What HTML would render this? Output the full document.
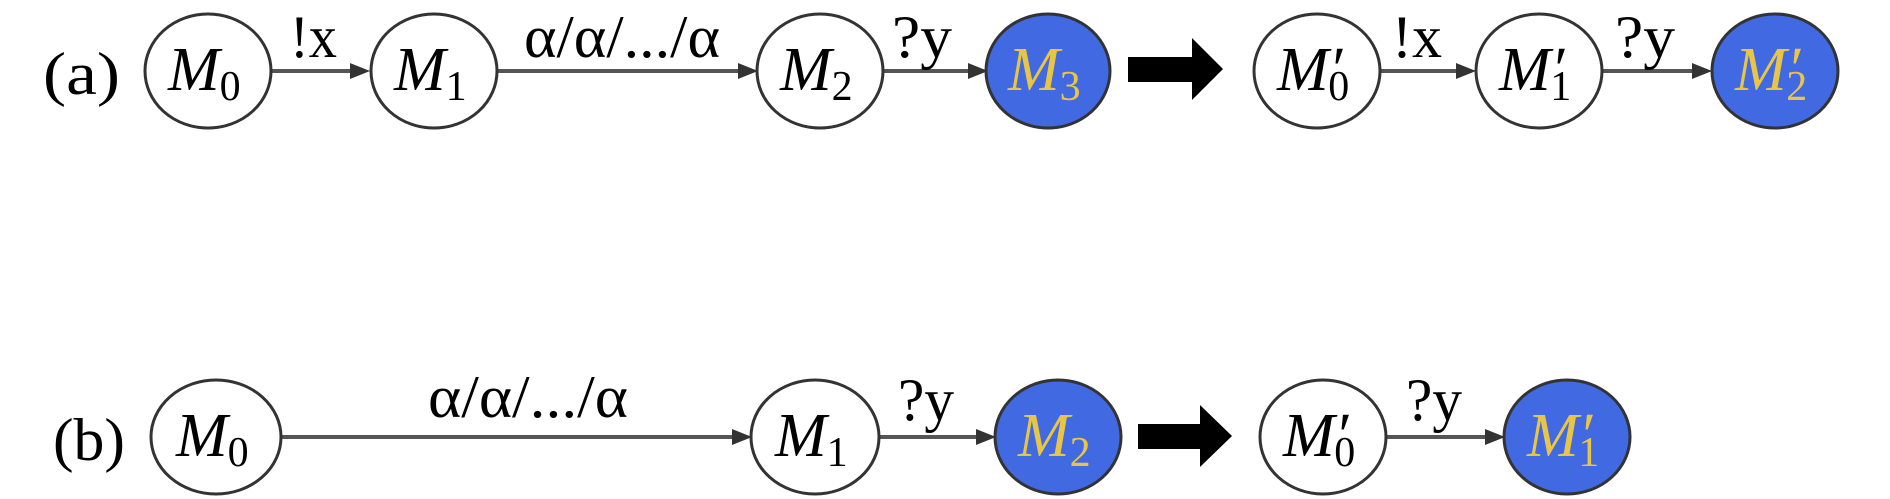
<!DOCTYPE html>
<html><head><meta charset="utf-8"><style>
html,body{margin:0;padding:0;background:#fff;}
svg{display:block;}
</style></head><body>
<svg width="1890" height="499" viewBox="0 0 1890 499" xmlns="http://www.w3.org/2000/svg" font-family="'Liberation Serif', 'DejaVu Serif', serif">
<g stroke="#555" stroke-width="4">
<line x1="272" y1="71" x2="350" y2="71"/>
<line x1="498" y1="71" x2="738" y2="71"/>
<line x1="884" y1="71" x2="968" y2="71"/>
<line x1="1381" y1="71" x2="1456" y2="71"/>
<line x1="1603" y1="71" x2="1692" y2="71"/>
<line x1="281" y1="437" x2="732" y2="437"/>
<line x1="880" y1="437" x2="976" y2="437"/>
<line x1="1387" y1="437" x2="1485" y2="437"/>
</g>
<g fill="#333">
<polygon points="350,63 370,71 350,79"/>
<polygon points="738,63 758,71 738,79"/>
<polygon points="968,63 988,71 968,79"/>
<polygon points="1456,63 1476,71 1456,79"/>
<polygon points="1692,63 1712,71 1692,79"/>
<polygon points="732,429 752,437 732,445"/>
<polygon points="976,429 996,437 976,445"/>
<polygon points="1485,429 1505,437 1485,445"/>
</g>
<polygon points="1128,57 1192,57 1192,38 1223,69 1192,100 1192,82 1128,82" fill="#000"/>
<polygon points="1138,424 1200,424 1200,405 1232,436 1200,467 1200,449 1138,449" fill="#000"/>
<g stroke="#333" stroke-width="3" fill="#fff">
<ellipse cx="208" cy="71" rx="63" ry="57"/>
<ellipse cx="434" cy="71" rx="63" ry="57"/>
<ellipse cx="820" cy="71" rx="63" ry="57"/>
<ellipse cx="1048" cy="71" rx="62" ry="57" fill="#4169e1"/>
<ellipse cx="1317" cy="71" rx="63" ry="57"/>
<ellipse cx="1539" cy="71" rx="63" ry="57"/>
<ellipse cx="1775" cy="71" rx="63" ry="57" fill="#4169e1"/>
<ellipse cx="216" cy="437" rx="65" ry="57"/>
<ellipse cx="815" cy="437" rx="64" ry="57"/>
<ellipse cx="1058" cy="437" rx="63" ry="57" fill="#4169e1"/>
<ellipse cx="1323" cy="437" rx="63" ry="57"/>
<ellipse cx="1567" cy="437" rx="63" ry="57" fill="#4169e1"/>
</g>
<g font-size="60" fill="#000">
<text x="43" y="94" textLength="77" lengthAdjust="spacingAndGlyphs">(a)</text>
<text x="53" y="460" textLength="72" lengthAdjust="spacingAndGlyphs">(b)</text>
<text x="290" y="57" textLength="47" lengthAdjust="spacingAndGlyphs">!x</text>
<text x="524" y="57" textLength="196" lengthAdjust="spacingAndGlyphs">α/α/.../α</text>
<text x="892" y="57" textLength="60" lengthAdjust="spacingAndGlyphs">?y</text>
<text x="1392" y="57" textLength="50" lengthAdjust="spacingAndGlyphs">!x</text>
<text x="1615" y="57" textLength="60" lengthAdjust="spacingAndGlyphs">?y</text>
<text x="428" y="417" textLength="200" lengthAdjust="spacingAndGlyphs">α/α/.../α</text>
<text x="898" y="420" textLength="56" lengthAdjust="spacingAndGlyphs">?y</text>
<text x="1406" y="420" textLength="56" lengthAdjust="spacingAndGlyphs">?y</text>
</g>
<g font-size="62" font-style="italic" fill="#000">
<text x="168" y="90">M<tspan font-size="42" font-style="normal" dy="10">0</tspan></text>
<text x="394" y="90">M<tspan font-size="42" font-style="normal" dy="10">1</tspan></text>
<text x="780" y="90">M<tspan font-size="42" font-style="normal" dy="10">2</tspan></text>
<text x="1008" y="90" fill="#e8c547">M<tspan font-size="42" font-style="normal" dy="10">3</tspan></text>
<text x="1277" y="90">M′<tspan font-size="42" font-style="normal" dx="-14" dy="10">0</tspan></text>
<text x="1499" y="90">M′<tspan font-size="42" font-style="normal" dx="-14" dy="10">1</tspan></text>
<text x="1735" y="90" fill="#e8c547">M′<tspan font-size="42" font-style="normal" dx="-14" dy="10">2</tspan></text>
<text x="176" y="456">M<tspan font-size="42" font-style="normal" dy="10">0</tspan></text>
<text x="775" y="456">M<tspan font-size="42" font-style="normal" dy="10">1</tspan></text>
<text x="1018" y="456" fill="#e8c547">M<tspan font-size="42" font-style="normal" dy="10">2</tspan></text>
<text x="1283" y="456">M′<tspan font-size="42" font-style="normal" dx="-14" dy="10">0</tspan></text>
<text x="1527" y="456" fill="#e8c547">M′<tspan font-size="42" font-style="normal" dx="-14" dy="10">1</tspan></text>
</g>
</svg>
</body></html>
